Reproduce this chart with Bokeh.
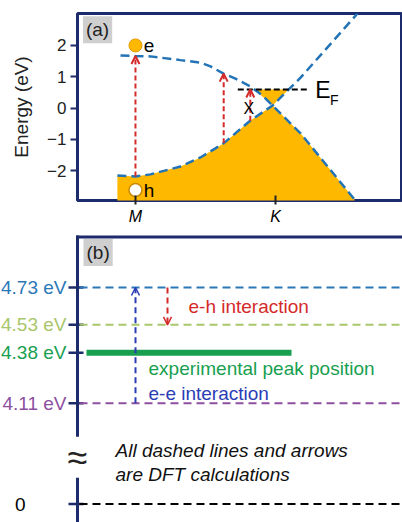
import numpy as np
from bokeh.plotting import figure
from bokeh.models import Range1d, FixedTicker, Label, Arrow, OpenHead
from bokeh.embed import file_html
from bokeh.resources import INLINE

# ---------------- data: panel (a) band structure (k: M=0, K=1; energy in eV)
k_cb = [-0.107, 0.0, 0.107, 0.321, 0.464, 0.536, 0.629, 0.714, 0.821, 0.907, 0.979, 1.179, 1.564]
e_cb = [1.68, 1.66, 1.65, 1.53, 1.45, 1.33, 1.10, 0.94, 0.69, 0.40, 0.08, -0.81, -2.92]
k_vb = [-0.129, 0.0, 0.107, 0.321, 0.464, 0.629, 0.821, 0.979, 1.179, 1.586]
e_vb = [-2.16, -2.19, -2.12, -1.87, -1.58, -1.13, -0.40, 0.08, 0.97, 3.02]
k_cross = 0.979
E_F = 0.59
electron = (0.0, 2.0)
hole = (0.0, -2.62)
arrow_k = [0.0, 0.63, 0.82]
arrow_to = ["cb", "cb", "EF"]
k_ticks = [0, 1]
k_labels = ["M", "K"]
e_ticks = [-2, -1, 0, 1, 2]

# ---------------- data: panel (b) energy levels (eV)
levels = [4.73, 4.53, 4.11, 0.0]
level_labels = ["4.73 eV", "4.53 eV", "4.11 eV", "0"]
exp_peak = 4.38
exp_label = "4.38 eV"
break_gap = 0.54  # compressed gap of broken axis below 4.11 eV
axis_top = 5.0

NAVY = "#1c2b6b"
BAND = "#2374b6"
ORANGE = "#ffb800"
RED = "#d42a2a"
FONT = "Liberation Sans"
level_colors = ["#2a78b8", "#a9c66b", "#8d4f9f", "#000000"]
EXP_COLOR = "#18a050"
EE_COLOR = "#2a3db5"

W = 402

# ================= panel (a)
fa = figure(width=W, height=228, x_range=Range1d(-0.414, 1.907), y_range=Range1d(-2.955, 3.02),
            output_backend="svg", toolbar_location=None,
            min_border_left=77, min_border_right=0, min_border_top=13, min_border_bottom=28)
fa.grid.visible = False
fa.outline_line_color = NAVY
fa.outline_line_width = 3
fa.outline_line_alpha = 1

xa = fa.xaxis[0]
xa.ticker = FixedTicker(ticks=k_ticks)
xa.major_label_overrides = {t: l for t, l in zip(k_ticks, k_labels)}
xa.major_label_text_font = FONT
xa.major_label_text_font_style = "italic"
xa.major_label_text_font_size = "16px"
xa.major_label_text_color = "black"
xa.axis_line_color = None
xa.major_tick_in = 5
xa.major_tick_out = 4
xa.major_tick_line_width = 2
xa.major_tick_line_color = "#222222"
xa.minor_tick_line_color = None
xa.major_label_standoff = 3

ya = fa.yaxis[0]
ya.ticker = FixedTicker(ticks=e_ticks)
ya.axis_label = "Energy (eV)"
ya.axis_label_text_font = FONT
ya.axis_label_text_font_style = "normal"
ya.axis_label_text_font_size = "19px"
ya.axis_label_text_color = "#222222"
ya.axis_label_standoff = 12
ya.major_label_text_font = FONT
ya.major_label_text_font_size = "17px"
ya.major_label_text_color = "#222222"
ya.axis_line_color = None
ya.major_tick_in = 0
ya.major_tick_out = 7
ya.major_tick_line_width = 2
ya.major_tick_line_color = NAVY
ya.minor_tick_line_color = None
ya.major_label_standoff = 4

# filled occupied states
kv = np.array(k_vb); ev = np.array(e_vb)
kc = np.array(k_cb); ec = np.array(e_cb)
left = kv <= k_cross
right = kc > k_cross
ybot = -3.3
fill_x = list(kv[left]) + list(kc[right]) + [kc[right][-1], kv[left][0]]
fill_y = list(ev[left]) + list(ec[right]) + [ybot, ybot]
fa.patch(fill_x, fill_y, fill_color=ORANGE, line_color=None)

# small filled triangle up to E_F
cb_before = kc <= k_cross
k_left_ef = float(np.interp(E_F, ec[cb_before][::-1], kc[cb_before][::-1]))
vb_after = kv >= k_cross
k_right_ef = float(np.interp(E_F, ev[vb_after], kv[vb_after]))
fa.patch([k_left_ef, k_right_ef, k_cross], [E_F, E_F, float(np.interp(k_cross, kv, ev))],
         fill_color=ORANGE, line_color=None)

# bands
fa.line(k_cb, e_cb, line_color=BAND, line_width=2.5, line_dash="9 5")
fa.line(k_vb, e_vb, line_color=BAND, line_width=2.5, line_dash="9 5")

# Fermi level
fa.line([k_left_ef - 0.12, k_right_ef + 0.15], [E_F, E_F], line_color="black", line_width=2, line_dash="6 3")
fa.add_layout(Label(x=k_right_ef + 0.19, y=E_F, text="E", text_font=FONT, text_font_size="23px",
                    text_baseline="middle", text_color="black"))
fa.add_layout(Label(x=k_right_ef + 0.295, y=E_F - 0.33, text="F", text_font=FONT, text_font_size="14px",
                    text_baseline="middle", text_color="black"))

# excitation arrows
for k, to in zip(arrow_k, arrow_to):
    y0 = float(np.interp(k, kv, ev))
    y1 = float(np.interp(k, kc, ec)) if to == "cb" else E_F
    fa.add_layout(Arrow(x_start=k, y_start=y0, x_end=k, y_end=y1,
                        end=OpenHead(size=8, line_color=RED, line_width=2),
                        line_color=RED, line_width=2, line_dash="5 3"))
fa.add_layout(Label(x=arrow_k[2] - 0.01, y=0.0, text="X", text_font=FONT, text_font_size="16px",
                    text_align="center", text_baseline="middle", text_color="black"))

# electron and hole
fa.scatter([electron[0]], [electron[1]], size=13, fill_color=ORANGE, line_color="#e39a00", line_width=1)
fa.scatter([hole[0]], [hole[1]], size=13, fill_color="white", line_color="#c98a00", line_width=1.5)
fa.add_layout(Label(x=electron[0] + 0.06, y=electron[1], text="e", text_font=FONT, text_font_size="19px",
                    text_baseline="middle", text_color="black"))
fa.add_layout(Label(x=hole[0] + 0.06, y=hole[1], text="h", text_font=FONT, text_font_size="19px",
                    text_baseline="middle", text_color="black"))

fa.add_layout(Label(x=-0.375, y=2.93, text="(a)", text_font=FONT, text_font_size="19px",
                    text_baseline="top", text_color="#222222",
                    background_fill_color="#cfcfcf", padding=3))

# ================= panel (b)  (schematic with broken energy axis)
def disp(v):
    return v if v > 1 else levels[2] - break_gap + v

lv_disp = [disp(v) for v in levels]
tick_pos = lv_disp + [exp_peak]

fb = figure(width=W, height=294, x_range=Range1d(-77, 325), y_range=Range1d(3.471, 5.046),
            x_axis_location=None, y_axis_location=None,
            output_backend="svg", toolbar_location=None,
            min_border_left=0, min_border_right=0, min_border_top=0, min_border_bottom=0)
fb.outline_line_color = None
fb.grid.visible = False

# frame / axis lines and cross ticks
fb.segment(x0=[0], x1=[0], y0=[axis_top + 0.008], y1=[3.3], line_color=NAVY, line_width=3)
fb.segment(x0=[-1.5], x1=[340], y0=[axis_top], y1=[axis_top], line_color=NAVY, line_width=3)
fb.segment(x0=[-9] * len(tick_pos), x1=[6] * len(tick_pos), y0=tick_pos, y1=tick_pos,
           line_color=NAVY, line_width=2.5)

fb.segment(x0=[2] * len(levels), x1=[340] * len(levels), y0=lv_disp, y1=lv_disp,
           line_color=level_colors, line_width=2, line_dash="8 5")
fb.segment(x0=[9], x1=[214], y0=[exp_peak], y1=[exp_peak], line_color=EXP_COLOR, line_width=6)

# tick labels (coloured)
for v, lab, c in zip(lv_disp, level_labels, level_colors):
    fb.add_layout(Label(x=-11 if lab != "0" else -52, y=v, text=lab, text_font=FONT, text_font_size="19px",
                        text_align="right", text_baseline="middle", text_color=c))
fb.add_layout(Label(x=-11, y=exp_peak, text=exp_label, text_font=FONT, text_font_size="19px",
                    text_align="right", text_baseline="middle", text_color=EXP_COLOR))

# interaction arrows
fb.add_layout(Arrow(x_start=58, y_start=levels[2], x_end=58, y_end=levels[0],
                    end=OpenHead(size=8, line_color=EE_COLOR, line_width=1.5),
                    line_color=EE_COLOR, line_width=2, line_dash="6 4"))
fb.add_layout(Arrow(x_start=90, y_start=levels[0], x_end=90, y_end=levels[1],
                    end=OpenHead(size=8, line_color=RED, line_width=1.5),
                    line_color=RED, line_width=2, line_dash="6 4"))

fb.add_layout(Label(x=111, y=4.628, text="e-h interaction", text_font=FONT, text_font_size="19px",
                    text_baseline="middle", text_color=RED))
fb.add_layout(Label(x=71, y=4.297, text="experimental peak position", text_font=FONT, text_font_size="19px",
                    text_baseline="middle", text_color=EXP_COLOR))
fb.add_layout(Label(x=71, y=4.163, text="e-e interaction", text_font=FONT, text_font_size="19px",
                    text_baseline="middle", text_color=EE_COLOR))
fb.add_layout(Label(x=38, y=3.858, text="All dashed lines and arrows", text_font=FONT, text_font_size="19px",
                    text_font_style="italic", text_baseline="middle", text_color="#111111"))
fb.add_layout(Label(x=38, y=3.728, text="are DFT calculations", text_font=FONT, text_font_size="19px",
                    text_font_style="italic", text_baseline="middle", text_color="#111111"))
fb.add_layout(Label(x=0, y=3.82, text="≈", text_font=FONT, text_font_size="36px",
                    text_align="center", text_baseline="middle", text_color="#222222",
                    background_fill_color="white", padding=0))
fb.add_layout(Label(x=6, y=4.99, text="(b)", text_font=FONT, text_font_size="19px",
                    text_baseline="top", text_color="#222222",
                    background_fill_color="#cfcfcf", padding=3))

# two independent roots stacked vertically (keeps each panel's own frame)
open("out.html", "w").write(file_html([fa, fb], INLINE))
